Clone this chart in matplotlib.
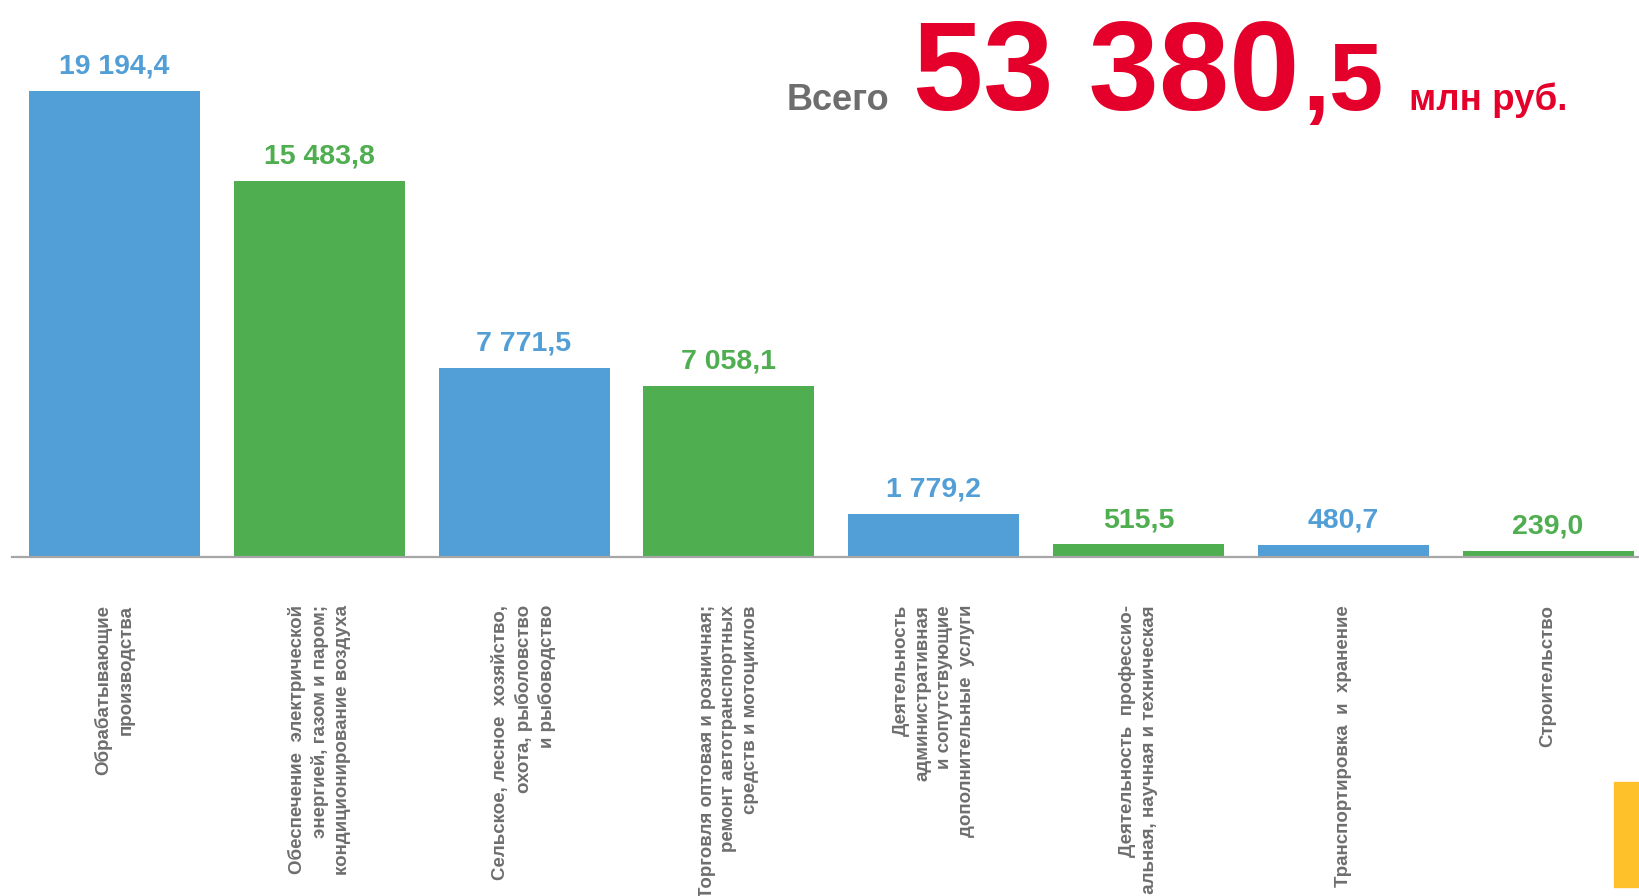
import matplotlib
matplotlib.use('Agg')
import matplotlib.pyplot as plt
from matplotlib.patches import Rectangle
import numpy as np

plt.rcParams['font.family'] = ['Liberation Sans', 'DejaVu Sans']
plt.rcParams['font.weight'] = 'bold'

# data
categories = ["Обрабатывающие\nпроизводства",
              "Обеспечение  электрической\nэнергией, газом и паром;\nкондиционирование воздуха",
              "Сельское, лесное  хозяйство,\nохота, рыболовство\nи рыбоводство",
              "Торговля оптовая и розничная;\nремонт автотранспортных\nсредств и мотоциклов",
              "Деятельность\nадминистративная\nи сопутствующие\nдополнительные  услуги",
              "Деятельность  профессио-\nнальная, научная и техническая",
              "Транспортировка  и  хранение",
              "Строительство"]
values = [19194.4, 15483.8, 7771.5, 7058.1, 1779.2, 515.5, 480.7, 239.0]
value_labels = ["19 194,4", "15 483,8", "7 771,5", "7 058,1",
                "1 779,2", "515,5", "480,7", "239,0"]
total_label = "53 380"
total_frac = ",5"

BLUE = '#529fd7'
GREEN = '#4eae50'
RED = '#e4002b'
GREY = '#6e6e6e'
colors = [BLUE, GREEN] * 4

W, H = 1640, 896
fig = plt.figure(figsize=(W / 100, H / 100), dpi=100)

# axes: left edge at px 12, baseline at px 557
ax = fig.add_axes([12 / W, 1 - 557 / H, 1 - 12 / W, (557 - 71.4) / H])
x = np.arange(len(values))
ax.bar(x, values, 0.835, color=colors, zorder=2)
ax.set_xlim(-0.5, 7.449)
ax.set_ylim(0, 20000)
for s in ['top', 'right', 'left']:
    ax.spines[s].set_visible(False)
ax.spines['bottom'].set_color('#a6a6a6')
ax.spines['bottom'].set_linewidth(1.6)
ax.set_xticks([])
ax.set_yticks([])

for i, v in enumerate(values):
    ax.annotate(value_labels[i], (x[i], v), xytext=(0, 12.5),
                textcoords='offset points', ha='center', va='baseline',
                fontsize=20.5, fontweight='bold', color=colors[i])

# category labels, rotated, tops aligned at px ~605
label_y = -(605 - 557) / 0.024278
for i, c in enumerate(categories):
    ax.text(x[i], label_y, c, rotation=90, ha='center', va='top',
            multialignment='right', fontsize=13.5, fontweight='bold',
            color=GREY, clip_on=False, linespacing=1.37)

# total in the top right
base = 1 - 110 / H
fig.text(787 / W, base, "Всего", fontsize=26, fontweight='bold',
         color=GREY, ha='left', va='baseline')
fig.text(1106 / W, base, total_label, fontsize=91, fontweight='bold',
         color=RED, ha='center', va='baseline')
fig.text(1384 / W, base, total_frac, fontsize=70, fontweight='bold',
         color=RED, ha='right', va='baseline')
fig.text(1409 / W, base, "млн руб.", fontsize=26.5, fontweight='bold',
         color=RED, ha='left', va='baseline')

# yellow tab in the bottom right corner
fig.patches.append(Rectangle((1614 / W, 1 - 887 / H), 26 / W, 105 / H,
                             transform=fig.transFigure, color='#ffc12a',
                             zorder=0))

plt.savefig('out.png', dpi=100)
